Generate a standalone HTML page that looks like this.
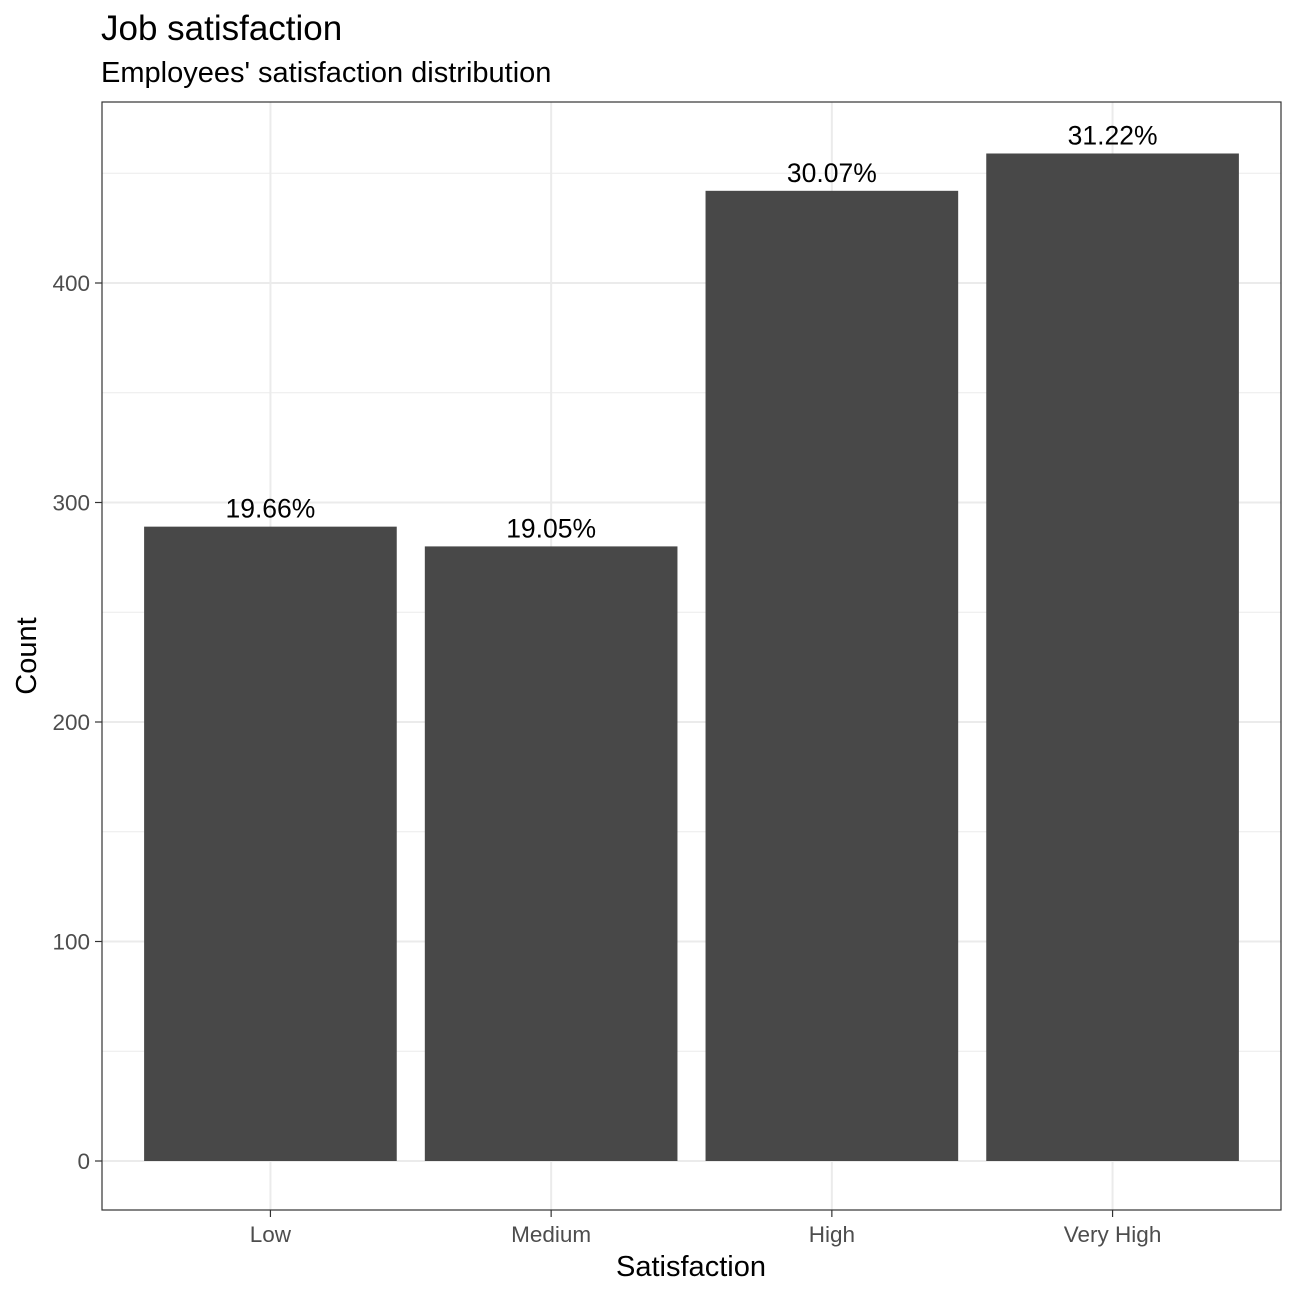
<!DOCTYPE html>
<html><head><meta charset="utf-8"><style>
body{margin:0;background:#fff}
svg text{font-family:"Liberation Sans",Arial,sans-serif}
</style></head><body>
<svg id="chart" width="1296" height="1296" xmlns="http://www.w3.org/2000/svg">
<rect width="1296" height="1296" fill="#fff"/>
<text x="101" y="40" font-size="35" fill="#000">Job satisfaction</text>
<text x="101" y="82" font-size="29" fill="#000">Employees' satisfaction distribution</text>
<g id="grid"></g>
<g id="bars"></g>
<g id="labels"></g>
<g id="axes"></g>
<rect x="102" y="102" width="1179" height="1108" fill="none" stroke="#333" stroke-width="1.2"/>
<text x="691" y="1276" font-size="29" text-anchor="middle" fill="#000">Satisfaction</text>
<text transform="translate(36,656) rotate(-90)" font-size="29" text-anchor="middle" fill="#000">Count</text>
</svg>
<script>
const categories = ["Low","Medium","High","Very High"];
const counts = [289,280,442,459];
const pctLabels = ["19.66%","19.05%","30.07%","31.22%"];
const yTicks = [0,100,200,300,400];
const yMinor = [50,150,250,350,450];

const NS="http://www.w3.org/2000/svg";
const pLeft=102,pRight=1281,panelTop=102,pBottom=1210;
const y0=1161,pxPer=219.5/100;
const yS=v=>y0-v*pxPer;
const step=(pRight-pLeft)/(categories.length+0.2);
const xS=i=>pLeft+step*(0.6+i);
const bw=step*0.9;
function mk(tag,attrs,parent){const e=document.createElementNS(NS,tag);for(const k in attrs)e.setAttribute(k,attrs[k]);parent.appendChild(e);return e;}
const grid=document.getElementById('grid'),bars=document.getElementById('bars'),labels=document.getElementById('labels'),axes=document.getElementById('axes');
yMinor.forEach(v=>{const l=mk('line',{x1:pLeft,x2:pRight,y1:yS(v),y2:yS(v),stroke:'#ebebeb','stroke-width':1},grid);

});
yTicks.forEach(v=>{const l=mk('line',{x1:pLeft,x2:pRight,y1:yS(v),y2:yS(v),stroke:'#ebebeb','stroke-width':2},grid);


const t=mk('line',{x1:pLeft-7,x2:pLeft,y1:yS(v),y2:yS(v),stroke:'#333','stroke-width':1.2},axes);


const tx=mk('text',{x:pLeft-12,y:yS(v)+8,'font-size':22.5,'text-anchor':'end',fill:'#4d4d4d'},axes);
tx.textContent=v;

});
categories.forEach((c,i)=>{const x=xS(i);
const g=mk('line',{x1:x,x2:x,y1:panelTop,y2:pBottom,stroke:'#ebebeb','stroke-width':2},grid);


const b=mk('rect',{x:x-bw/2,y:yS(counts[i]),width:bw,height:yS(0)-yS(counts[i]),fill:'#484848'},bars);


const lt=mk('text',{x:x,y:yS(counts[i])-9,'font-size':26.5,'text-anchor':'middle',fill:'#000'},labels);
lt.textContent=pctLabels[i];


const t=mk('line',{x1:x,x2:x,y1:pBottom,y2:pBottom+7,stroke:'#333','stroke-width':1.2},axes);


const tx=mk('text',{x:x,y:pBottom+32,'font-size':22.5,'text-anchor':'middle',fill:'#4d4d4d'},axes);
tx.textContent=c;

});
</script>
</body></html>
